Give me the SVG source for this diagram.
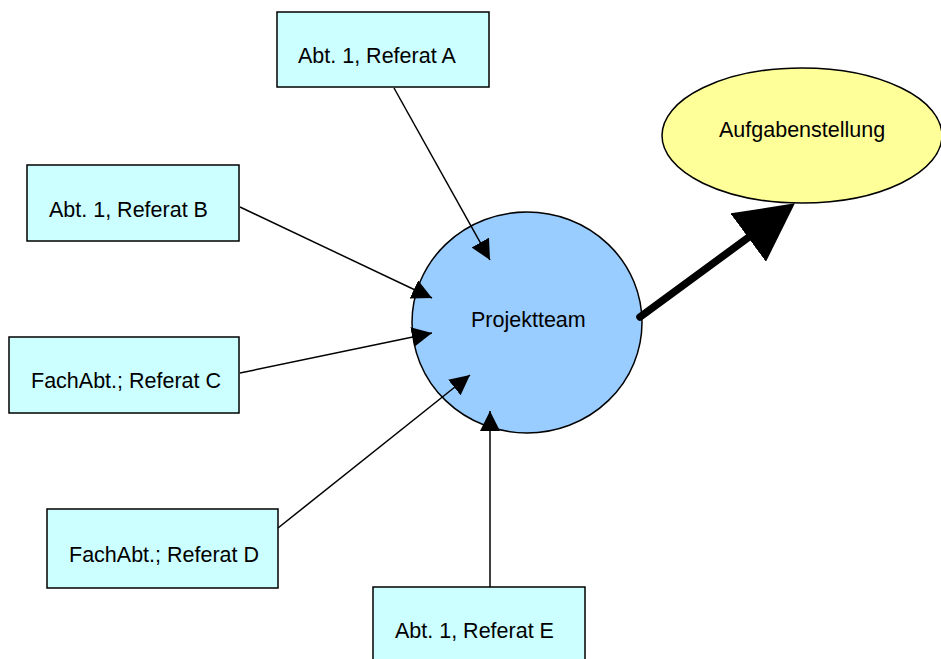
<svg xmlns="http://www.w3.org/2000/svg" width="941" height="659" viewBox="0 0 941 659">
  <style>
    .box { fill: #CCFFFF; stroke: #000; stroke-width: 1.5; }
    .team { fill: #99CCFF; stroke: #000; stroke-width: 1.5; }
    .goal { fill: #FFFF99; stroke: #000; stroke-width: 1.5; }
    .lbl { font-family: "Liberation Sans", Arial, sans-serif; font-size: 21.5px; fill: #000; }
    .link { stroke: #000; stroke-width: 1.5; fill: none; marker-end: url(#head); }
    .bold { stroke: #000; stroke-width: 7.5; stroke-linecap: round; fill: none; marker-end: url(#bighead); }
  </style>
  <defs>
    <marker id="head" markerUnits="userSpaceOnUse" markerWidth="20" markerHeight="20" viewBox="0 0 20 20" refX="20" refY="10" orient="auto">
      <path d="M0,0 L20,10 L0,20 z" fill="#000"/>
    </marker>
    <marker id="bighead" markerUnits="userSpaceOnUse" markerWidth="58" markerHeight="60" viewBox="0 0 58 60" refX="1" refY="30" orient="auto">
      <path d="M0,0 L58,30 L0,60 z" fill="#000"/>
    </marker>
  </defs>

  <rect width="941" height="659" fill="#fff"/>

  <!-- central team and goal ellipses -->
  <g id="projektteam">
    <ellipse class="team" cx="527" cy="322.5" rx="115" ry="110.5"/>
    <text class="lbl" x="471" y="327">Projektteam</text>
  </g>
  <g id="aufgabenstellung">
    <ellipse class="goal" cx="802" cy="135.5" rx="140" ry="67.5"/>
    <text class="lbl" x="719" y="137">Aufgabenstellung</text>
  </g>

  <!-- contributing units -->
  <g id="referat-a">
    <rect class="box" x="277" y="12" width="212" height="75"/>
    <text class="lbl" x="298" y="63">Abt. 1, Referat A</text>
  </g>
  <g id="referat-b">
    <rect class="box" x="27" y="165" width="212" height="76"/>
    <text class="lbl" x="49" y="217">Abt. 1, Referat B</text>
  </g>
  <g id="referat-c">
    <rect class="box" x="9" y="337" width="230" height="76"/>
    <text class="lbl" x="31" y="388">FachAbt.; Referat C</text>
  </g>
  <g id="referat-d">
    <rect class="box" x="47" y="509" width="231" height="79"/>
    <text class="lbl" x="69" y="562">FachAbt.; Referat D</text>
  </g>
  <g id="referat-e">
    <rect class="box" x="373" y="587" width="212" height="85"/>
    <text class="lbl" x="395" y="638">Abt. 1, Referat E</text>
  </g>

  <!-- connectors -->
  <g id="connectors">
    <line class="link" x1="394" y1="88" x2="490" y2="260"/>
    <line class="link" x1="240" y1="207" x2="432" y2="298"/>
    <line class="link" x1="240" y1="373" x2="432" y2="333"/>
    <line class="link" x1="278" y1="528" x2="470" y2="375"/>
    <line class="link" x1="490" y1="587" x2="490" y2="411"/>
    <line class="bold" x1="640" y1="317" x2="749" y2="237"/>
  </g>
</svg>
